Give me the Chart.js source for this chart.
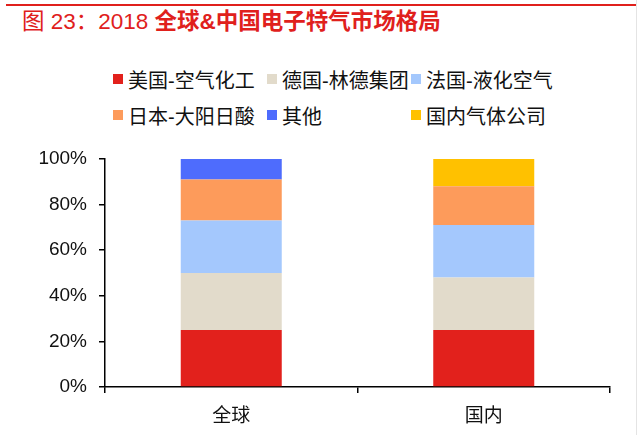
<!DOCTYPE html>
<html>
<head>
<meta charset="utf-8">
<script src="https://cdn.jsdelivr.net/npm/chart.js@4"></script>
<style>
    body { margin: 0; background: #fff; }
    #wrap { position: relative; width: 640px; height: 435px; overflow: hidden; font-family: "Liberation Sans", "Noto Sans CJK SC", sans-serif; }
    #topline { position: absolute; left: 6px; top: 4px; width: 630px; height: 2px; background: #e0201c; }
    #edge { position: absolute; left: 636px; top: 0; width: 1px; height: 435px; background: #e4e4e4; }
    #title { position: absolute; left: 22px; top: 8px; font-size: 22.5px; line-height: 28px; color: #e0201c; white-space: nowrap; }
    #title b { font-weight: bold; }
    #legend { position: absolute; left: 113px; top: 61px; display: grid; grid-template-columns: 154px 144px auto; }
    .item { display: flex; align-items: center; height: 36px; font-size: 20px; color: #111; white-space: nowrap; }
    .box { width: 10px; height: 10px; margin-right: 5px; }
    #chart { position: absolute; left: 0; top: 0; }
</style>
</head>
<body>
<div id="wrap">
    <div id="topline"></div>
    <div id="edge"></div>
    <div id="title">图 23：2018 <b>全球&amp;中国电子特气市场格局</b></div>
    <div id="legend"></div>
    <canvas id="chart" width="640" height="435"></canvas>
</div>
<script>
const categories = ['全球', '国内'];
const companies = ['美国-空气化工', '德国-林德集团', '法国-液化空气', '日本-大阳日酸', '其他', '国内气体公司'];
const colors = ['#e2211c', '#e2dbcb', '#a4c8fd', '#fd9b5b', '#4e6cfd', '#ffc100'];

// share (%) per company, [全球, 国内]
const airProducts = [25, 25];
const linde = [25, 23];
const airLiquide = [23, 23];
const taiyoNippon = [18, 17];
const others = [9, 0];
const domestic = [0, 12];

const yTicks = [0, 20, 40, 60, 80, 100];

const series = [airProducts, linde, airLiquide, taiyoNippon, others, domestic];

const datasets = series.map((values, i) => ({
    label: companies[i],
    data: values,
    backgroundColor: colors[i],
    borderWidth: 0,
    barPercentage: 0.4,
    categoryPercentage: 1.0
}));

// legend laid out as a grid like the source
const legendDiv = document.getElementById('legend');
datasets.forEach(ds => {
    const item = document.createElement('div');
    item.className = 'item';
    item.innerHTML = `<span class="box" style="background:${ds.backgroundColor}"></span><span>${ds.label}</span>`;
    legendDiv.appendChild(item);
});

const ctx = document.getElementById('chart').getContext('2d');

new Chart(ctx, {
    type: 'bar',
    data: {
        labels: categories,
        datasets: datasets
    },
    options: {
        responsive: false,
        animation: false,
        layout: {
            padding: { left: 0, right: 30, top: 159, bottom: 0 }
        },
        plugins: {
            legend: { display: false },
            tooltip: { enabled: false }
        },
        scales: {
            x: {
                stacked: true,
                grid: {
                    offset: true,
                    drawOnChartArea: false,
                    drawTicks: true,
                    tickLength: 6,
                    color: '#000',
                    lineWidth: 1.5
                },
                border: { color: '#000', width: 1.5 },
                ticks: {
                    color: '#111',
                    padding: 10,
                    font: { family: '"Noto Sans CJK SC", sans-serif', size: 19 }
                },
                afterFit: axis => { axis.height = 435 - 387; }
            },
            y: {
                stacked: true,
                min: 0,
                max: 100,
                afterBuildTicks: axis => { axis.ticks = yTicks.map(v => ({ value: v })); },
                grid: {
                    drawOnChartArea: false,
                    drawTicks: true,
                    tickLength: 6,
                    color: '#000',
                    lineWidth: 1.5
                },
                border: { color: '#000', width: 1.5 },
                ticks: {
                    color: '#111',
                    padding: 12,
                    font: { family: '"Liberation Sans", sans-serif', size: 19 },
                    callback: v => v + '%'
                },
                afterFit: axis => { axis.width = 105; }
            }
        }
    }
});
</script>
</body>
</html>
